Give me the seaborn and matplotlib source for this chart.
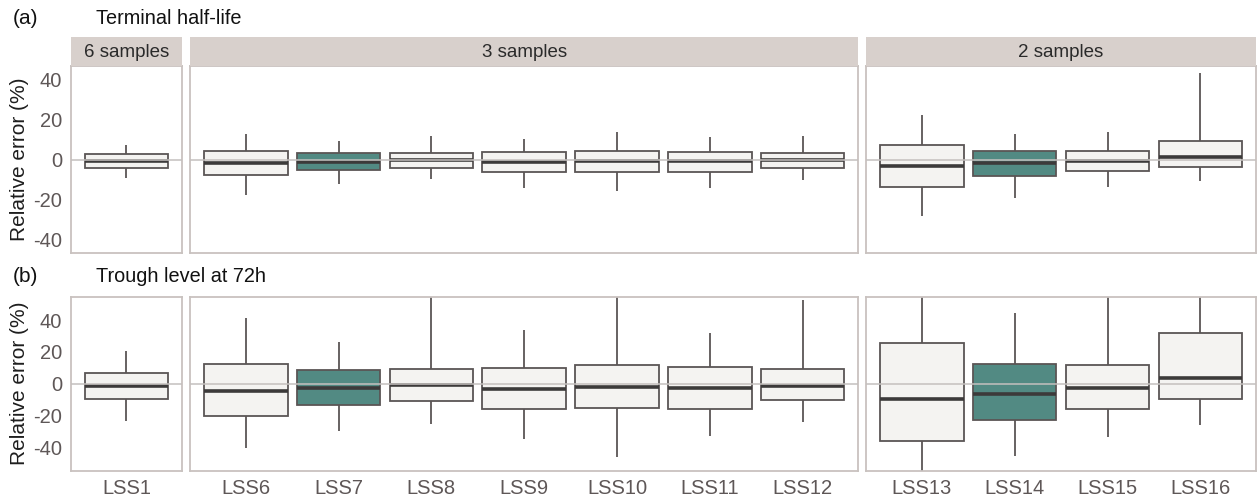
import numpy as np
import pandas as pd
import matplotlib
matplotlib.use('Agg')
import matplotlib.pyplot as plt
import seaborn as sns

# ── Data: box summaries (whisker low, q1, median, q3, whisker high) ─────────
LSS = ['LSS1', 'LSS6', 'LSS7', 'LSS8', 'LSS9', 'LSS10', 'LSS11', 'LSS12',
       'LSS13', 'LSS14', 'LSS15', 'LSS16']
GROUPS = ['6 samples'] + ['3 samples'] * 7 + ['2 samples'] * 4
FACETS = ['6 samples', '3 samples', '2 samples']
HIGHLIGHT = ['LSS7', 'LSS14']

# (a) Terminal half-life
a_lo  = [-9.2, -17.8, -12.2, -9.9, -14.0, -15.5, -14.2, -10.2, -28.3, -19.0, -13.5, -10.9]
a_q1  = [-4.0, -7.5, -5.3, -4.2, -6.0, -6.0, -6.0, -4.2, -13.7, -8.4, -5.9, -3.5]
a_med = [-0.8, -1.5, -1.0, 0.0, -1.2, -0.7, -0.8, -0.2, -3.0, -1.7, -0.8, 1.3]
a_q3  = [2.6, 4.3, 3.2, 3.5, 3.8, 4.3, 3.8, 3.5, 7.5, 4.1, 4.1, 9.3]
a_hi  = [7.5, 12.6, 9.3, 11.6, 10.5, 14.0, 11.2, 12.0, 22.5, 13.0, 13.6, 43.5]

# (b) Trough level at 72h
b_lo  = [-23.3, -40.6, -29.6, -25.5, -34.8, -45.9, -32.7, -23.9, -62.0, -45.5, -33.7, -26.2]
b_q1  = [-9.8, -20.3, -13.4, -10.7, -15.7, -15.5, -15.9, -10.1, -36.0, -23.0, -15.7, -9.6]
b_med = [-1.7, -4.6, -2.5, -1.0, -3.1, -2.1, -2.7, -1.2, -9.8, -6.3, -2.7, 3.4]
b_q3  = [6.5, 12.4, 8.4, 9.0, 10.1, 11.6, 10.5, 9.0, 25.8, 12.4, 11.8, 31.7]
b_hi  = [20.8, 41.1, 26.2, 62.0, 33.8, 64.0, 32.1, 52.6, 66.0, 44.3, 63.0, 65.0]

ROWS = [
    ('(a)', 'Terminal half-life', [a_lo, a_q1, a_med, a_q3, a_hi], 46.75),
    ('(b)', 'Trough level at 72h', [b_lo, b_q1, b_med, b_q3, b_hi], 54.8),
]

# ── Style ────────────────────────────────────────────────────────────────────
sns.set_style('white')
plt.rcParams['font.family'] = ['Liberation Sans', 'DejaVu Sans']
plt.rcParams['axes.unicode_minus'] = False

FILL   = '#F4F3F1'
TEAL   = '#528A83'
EDGE   = '#5A5555'
MEDIAN = '#3C3A3A'
FRAME  = '#C9C2BF'
STRIP  = '#D8D0CC'
ZERO   = '#C4C0BE'
TICKC  = '#5E5757'

palette = {k: (TEAL if k in HIGHLIGHT else FILL) for k in LSS}

W, H = 1258, 496
fig = plt.figure(figsize=(W / 100, H / 100), dpi=100)

# ── Layout in pixels ─────────────────────────────────────────────────────────
left_px, right_px, gap_px = 70.7, 1256.0, 8.0
n_per = [GROUPS.count(f) for f in FACETS]
units = [n + 0.2 for n in n_per]
ppu = (right_px - left_px - gap_px * (len(FACETS) - 1)) / sum(units)
row_geom = [(66.0, 253.0), (296.7, 470.7)]   # (top, bottom) px
strip_top = 37.0


def px_axes(x0, y0, x1, y1):
    return fig.add_axes([x0 / W, 1 - y1 / H, (x1 - x0) / W, (y1 - y0) / H])


for r, (tag, title, stats, ylim) in enumerate(ROWS):
    top, bot = row_geom[r]
    # long-form data: 5 points per box reproduce the box statistics exactly
    recs = []
    for i, name in enumerate(LSS):
        for s in stats:
            recs.append({'lss': name, 'facet': GROUPS[i], 'err': s[i]})
    df = pd.DataFrame(recs)

    x = left_px
    for f, facet in enumerate(FACETS):
        wpx = units[f] * ppu
        ax = px_axes(x, top, x + wpx, bot)
        sub = df[df['facet'] == facet]
        order = [k for k, g in zip(LSS, GROUPS) if g == facet]
        sns.boxplot(data=sub, x='lss', y='err', hue='lss', order=order,
                    hue_order=order, palette=palette, legend=False,
                    whis=(0, 100), showfliers=False, showcaps=False,
                    width=0.9, linecolor=EDGE, linewidth=1.3, saturation=1,
                    medianprops={'color': MEDIAN, 'linewidth': 2.6},
                    ax=ax)
        ax.axhline(0, color=ZERO, lw=1.1, zorder=10)
        ax.set_xlim(-0.6, len(order) - 0.4)
        ax.set_ylim(-ylim, ylim)
        ax.set_yticks([-40, -20, 0, 20, 40])
        ax.set_xlabel('')
        for sp in ax.spines.values():
            sp.set_color(FRAME)
            sp.set_linewidth(1.3)
        ax.tick_params(axis='both', length=4, color=TICKC, width=0.9,
                       labelsize=14.5, labelcolor=TICKC, pad=2)
        if r == 0:
            ax.tick_params(axis='x', length=0, labelbottom=False)
        if f == 0:
            ax.set_ylabel('Relative error (%)', fontsize=15, color='#1E1E1E',
                          labelpad=3)
        else:
            ax.set_ylabel('')
            ax.tick_params(axis='y', length=0, labelleft=False)

        # facet strip on the top row
        if r == 0:
            sax = px_axes(x, strip_top, x + wpx, top)
            sax.set_facecolor(STRIP)
            sax.set_xticks([]); sax.set_yticks([])
            for sp in sax.spines.values():
                sp.set_visible(False)
            sax.text(0.5, 0.48, facet, ha='center', va='center',
                     fontsize=13.5, color='#2A2A2A', transform=sax.transAxes)
        x += wpx + gap_px

    # row tag and title
    ty = 19 if r == 0 else 277
    fig.text(13 / W, 1 - ty / H, tag, ha='left', va='center', fontsize=15,
             color='#111111')
    fig.text(96 / W, 1 - ty / H, title, ha='left', va='center', fontsize=14.3,
             color='#111111')

fig.savefig('out.png', dpi=100)
plt.close(fig)
